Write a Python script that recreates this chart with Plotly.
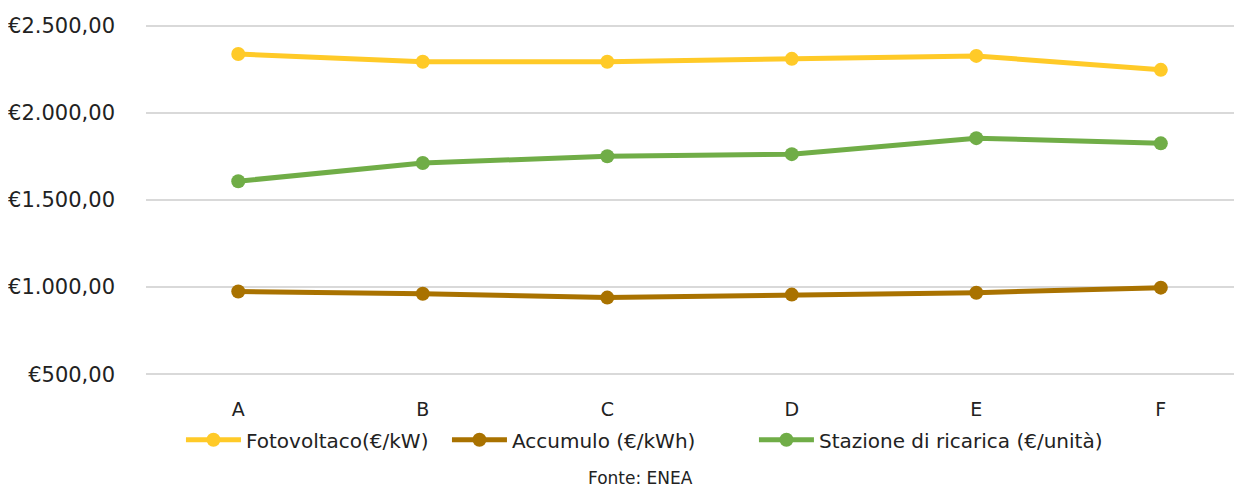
import plotly.graph_objects as go

categories = ["A", "B", "C", "D", "E", "F"]
fotovoltaico = [2338, 2293, 2293, 2310, 2327, 2247]
accumulo = [975, 962, 940, 957, 968, 997]
stazione = [1608, 1712, 1751, 1763, 1855, 1825]
y_ticks = [500, 1000, 1500, 2000, 2500]
y_tick_labels = ["€500,00", "€1.000,00", "€1.500,00", "€2.000,00", "€2.500,00"]

series = [
    ("Fotovoltaco(€/kW)", fotovoltaico, "#FFCA28", "legend", 0.0319),
    ("Accumulo (€/kWh)", accumulo, "#A97200", "legend2", 0.2746),
    ("Stazione di ricarica (€/unità)", stazione, "#70AD47", "legend3", 0.5547),
]

fig = go.Figure()
for name, vals, color, leg, _ in series:
    fig.add_trace(go.Scatter(
        x=categories, y=vals, name=name, mode="lines+markers",
        line=dict(color=color, width=5),
        marker=dict(color=color, size=14),
        legend=leg,
    ))

font_family = "DejaVu Sans, sans-serif"
legend_common = dict(orientation="h", xanchor="left", y=-0.181, yanchor="middle",
                     font=dict(size=20), itemwidth=55, borderwidth=0,
                     bgcolor="rgba(0,0,0,0)")
fig.update_layout(
    width=1234, height=480,
    margin=dict(l=138, r=0, t=16, b=112),
    paper_bgcolor="white", plot_bgcolor="white",
    font=dict(family=font_family, size=20, color="#222222"),
    xaxis=dict(showgrid=False, showline=False, zeroline=False, ticks="",
               ticklabelstandoff=20, range=[-0.5, 5.44],
               tickfont=dict(size=19)),
    yaxis=dict(range=[490, 2510], tickvals=y_ticks, ticktext=y_tick_labels,
               showgrid=True, gridcolor="#d9d9d9", gridwidth=2,
               zeroline=False, showline=False, ticks="", ticklabelstandoff=30,
               tickfont=dict(size=21)),
    legend=dict(x=series[0][4], **legend_common),
    legend2=dict(x=series[1][4], **legend_common),
    legend3=dict(x=series[2][4], **legend_common),
    showlegend=True,
)
fig.add_annotation(text="Fonte: ENEA", xref="paper", yref="paper",
                   x=0.451, y=-0.289, xanchor="center", yanchor="middle",
                   showarrow=False, font=dict(size=17, color="#222222"))

fig.write_html("out.html")
